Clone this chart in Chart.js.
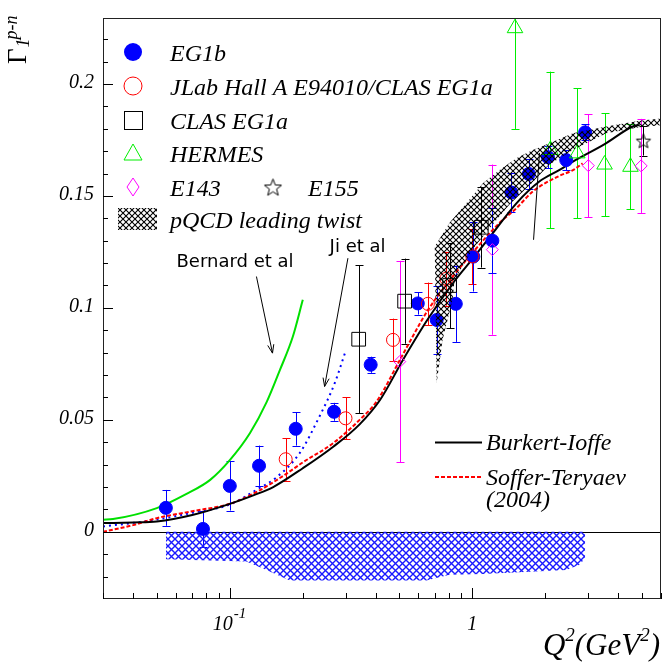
<!DOCTYPE html>
<html>
<head>
<meta charset="utf-8">
<script src="https://cdn.jsdelivr.net/npm/chart.js@4.4.1/dist/chart.umd.min.js"></script>
<style>
  html, body { margin: 0; padding: 0; background: #fff; overflow: hidden; }
  #wrap { width: 663px; height: 665px; position: relative; overflow: hidden; }
  #chartGamma { display: block; width: 663px; height: 665px; }
</style>
</head>
<body>
<div id="wrap"><canvas id="chartGamma" width="663" height="665"></canvas></div>
<script>
// EG1b (filled blue circles)
const qEG1b   = [0.0545, 0.0775, 0.100, 0.132, 0.187, 0.269, 0.381, 0.596, 0.713, 0.855, 1.01, 1.21, 1.45, 1.71, 2.05, 2.44, 2.92];
const gEG1b   = [0.0107, 0.0013, 0.0205, 0.0295, 0.0460, 0.0536, 0.0746, 0.1020, 0.0946, 0.1018, 0.1229, 0.1300, 0.1515, 0.1598, 0.1673, 0.1660, 0.1784];
const eEG1b   = [0.008, 0.008, 0.011, 0.009, 0.0075, 0.004, 0.0036, 0.005, 0.015, 0.017, 0.0156, 0.0145, 0.0087, 0.0067, 0.005, 0.0045, 0.0035];
// EG1b systematic band (below zero)
const qSys    = [0.0545, 0.117, 0.1416, 0.1767, 0.646, 0.806, 1.106, 2.44, 2.77, 2.92];
const gSys    = [-0.0122, -0.0132, -0.017, -0.0217, -0.0217, -0.0192, -0.0188, -0.017, -0.0147, -0.0118];
// JLab Hall A E94010 / CLAS EG1a
const qHallA  = [0.170, 0.300, 0.471, 0.656, 0.782, 1.00];
const gHallA  = [0.0324, 0.0507, 0.0857, 0.1018, 0.1130, 0.1230];
const eHallA  = [0.0095, 0.0094, 0.0095, 0.0095, 0.0120, 0.0123];
// CLAS EG1a
const qEG1a   = [0.340, 0.526, 0.806, 1.089];
const gEG1a   = [0.0860, 0.1030, 0.1100, 0.1360];
const eEG1a   = [0.033, 0.019, 0.019, 0.018];
// HERMES
const qHermes = [1.50, 2.10, 2.71, 3.51, 4.49];
const gHermes = [0.2249, 0.1705, 0.1690, 0.1640, 0.1630];
const eHermes = [0.045, 0.035, 0.029, 0.023, 0.019];
// E143
const qE143   = [0.502, 1.21, 3.01, 4.97];
const gE143   = [0.0760, 0.1260, 0.1635, 0.1634];
const eE143   = [0.045, 0.038, 0.023, 0.021];
// E155
const qE155   = [5.08];
const gE155   = [0.1747];
const eE155   = [0.0067];

// model curves
const qBurkert = [0.03, 0.04, 0.05, 0.07, 0.1, 0.125, 0.151, 0.2, 0.267, 0.343, 0.417, 0.516, 0.656, 0.845, 1.01, 1.2, 1.52, 1.89, 2.29, 2.6, 3.5, 4.59, 4.9];
const gBurkert = [0.0039, 0.0042, 0.0046, 0.0075, 0.0125, 0.0163, 0.0200, 0.0284, 0.0380, 0.0480, 0.0590, 0.0765, 0.0950, 0.1120, 0.1223, 0.1326, 0.1467, 0.1564, 0.1616, 0.1653, 0.1730, 0.1810, 0.1817];
const qSoffer  = [0.03, 0.04, 0.05, 0.07, 0.1, 0.13, 0.171, 0.2, 0.267, 0.343, 0.402, 0.516, 0.656, 0.845, 1.0, 1.296, 1.52, 1.777, 2.29, 2.6, 2.85];
const gSoffer  = [0.0000, 0.0030, 0.0061, 0.0092, 0.0125, 0.0180, 0.0259, 0.0310, 0.0396, 0.0500, 0.0580, 0.0790, 0.0990, 0.1150, 0.1245, 0.1380, 0.1445, 0.1520, 0.1590, 0.1615, 0.1645];
const qJi      = [0.03, 0.04, 0.05, 0.07, 0.1, 0.13, 0.156, 0.194, 0.2355, 0.27, 0.30];
const gJi      = [0.0024, 0.0040, 0.0055, 0.0085, 0.0122, 0.0190, 0.0244, 0.0351, 0.0520, 0.0660, 0.0805];
const qBernard = [0.03, 0.033, 0.05, 0.066, 0.083, 0.1, 0.121, 0.142, 0.161, 0.182, 0.2];
const gBernard = [0.0054, 0.0057, 0.0106, 0.0168, 0.0232, 0.0320, 0.0440, 0.0580, 0.0723, 0.0872, 0.1036];

// pQCD leading twist band: upper edge left->right, then lower edge right->left
const qBandUp = [0.70, 0.806, 0.945, 1.106, 1.296, 1.518, 1.777, 2.08, 2.598, 3.57, 4.89, 6.3];
const gBandUp = [0.1274, 0.1380, 0.1467, 0.1557, 0.1616, 0.1668, 0.1705, 0.1735, 0.1780, 0.1810, 0.1836, 0.1848];
const qBandLo = [6.3, 4.89, 3.57, 2.6, 2.08, 1.77, 1.42, 1.21, 1.0, 0.845, 0.829, 0.754, 0.713];
const gBandLo = [0.1818, 0.1807, 0.1780, 0.1705, 0.1640, 0.1560, 0.1460, 0.1370, 0.1260, 0.1125, 0.1036, 0.0857, 0.0665];

// axis ticks
const yTickVals = [0, 0.05, 0.1, 0.15, 0.2];
const yTickText = ['0', '0.05', '0.1', '0.15', '0.2'];

// annotations (data coordinates)
const notes = [
    { text: 'Bernard et al', x: 0.0603, y: 0.1184, from: [0.1288, 0.114], to: [0.150, 0.0798] },
    { text: 'Ji et al', x: 0.258, y: 0.1251, from: [0.307, 0.1222], to: [0.246, 0.0649] }
];
const pqcdPointer = { from: [1.893, 0.1692], to: [1.789, 0.1304] };

function pts(xs, ys) {
    return xs.map((x, i) => ({ x: x, y: ys[i] }));
}

const canvas = document.getElementById('chartGamma');
const ctx0 = canvas.getContext('2d');

function hatch(color, size, lw) {
    const c = document.createElement('canvas');
    c.width = size; c.height = size;
    const g = c.getContext('2d');
    g.strokeStyle = color;
    g.lineWidth = lw;
    g.beginPath();
    g.moveTo(0, 0); g.lineTo(size, size);
    g.moveTo(size, 0); g.lineTo(0, size);
    g.stroke();
    return ctx0.createPattern(c, 'repeat');
}

function makeStar(r) {
    const s = Math.ceil(r * 2 + 3);
    const c = document.createElement('canvas');
    c.width = s; c.height = s;
    const g = c.getContext('2d');
    g.strokeStyle = '#000';
    g.lineWidth = 1;
    g.beginPath();
    for (let k = 0; k < 10; k++) {
        const rr = k % 2 ? r * 0.42 : r;
        const ang = -Math.PI / 2 + k * Math.PI / 5;
        const px = s / 2 + rr * Math.cos(ang), py = s / 2 + 1 + rr * Math.sin(ang);
        if (k) g.lineTo(px, py); else g.moveTo(px, py);
    }
    g.closePath();
    g.stroke();
    return c;
}

const blackHatch = hatch('#000', 6, 1.1);
const blueHatch = hatch('#1a1aff', 7, 1.4);
const starImg = makeStar(7.5);
const starLegend = makeStar(9);

const SERIF = '"Liberation Serif", "Times New Roman", serif';

function markerDs(label, xs, ys, errs, style, color, radius, fill) {
    return {
        label: label,
        data: pts(xs, ys),
        errors: errs,
        errColor: color,
        showLine: false,
        pointStyle: style,
        pointRadius: radius,
        borderColor: color,
        backgroundColor: fill,
        pointBorderWidth: 1
    };
}

function curveDs(label, xs, ys, color, dash) {
    return {
        label: label,
        data: pts(xs, ys),
        showLine: true,
        pointRadius: 0,
        borderColor: color,
        borderWidth: 2,
        borderDash: dash,
        cubicInterpolationMode: 'monotone',
        fill: false
    };
}

const rootStyle = {
    id: 'rootStyle',
    beforeDatasetsDraw(chart) {
        const { ctx, chartArea: a, scales: { x, y } } = chart;
        ctx.save();
        ctx.strokeStyle = '#000';
        ctx.lineWidth = 1;
        const y0 = Math.round(y.getPixelForValue(0)) + 0.5;
        ctx.beginPath();
        ctx.moveTo(a.left, y0);
        ctx.lineTo(a.right, y0);
        ctx.stroke();

        // error bars
        chart.data.datasets.forEach((ds, i) => {
            if (!ds.errors) return;
            const meta = chart.getDatasetMeta(i);
            ctx.strokeStyle = ds.errColor;
            meta.data.forEach((pt, j) => {
                const e = ds.errors[j];
                const v = ds.data[j].y;
                const topRaw = y.getPixelForValue(v + e);
                const botRaw = y.getPixelForValue(v - e);
                const top = Math.max(topRaw, a.top);
                const bot = Math.min(botRaw, a.bottom);
                const px = Math.round(pt.x) + 0.5;
                ctx.beginPath();
                ctx.moveTo(px, top);
                ctx.lineTo(px, bot);
                if (topRaw >= a.top) {
                    ctx.moveTo(px - 4, Math.round(top) + 0.5);
                    ctx.lineTo(px + 4, Math.round(top) + 0.5);
                }
                if (botRaw <= a.bottom) {
                    ctx.moveTo(px - 4, Math.round(bot) + 0.5);
                    ctx.lineTo(px + 4, Math.round(bot) + 0.5);
                }
                ctx.stroke();
            });
        });
        ctx.restore();
    },
    afterDraw(chart) {
        const { ctx, chartArea: a, scales: { x, y } } = chart;
        ctx.save();

        // frame
        ctx.strokeStyle = '#222';
        ctx.lineWidth = 1;
        ctx.strokeRect(a.left + 0.5, a.top - 0.5, a.right - a.left - 1, a.bottom - a.top);

        // y ticks
        ctx.strokeStyle = '#000';
        ctx.beginPath();
        for (let k = -2; k <= 22; k++) {
            const py = Math.round(y.getPixelForValue(k / 100)) + 0.5;
            const len = k % 5 === 0 ? 10 : 5;
            ctx.moveTo(a.left, py);
            ctx.lineTo(a.left + len, py);
        }
        // x ticks
        [0.01, 0.1, 1].forEach(dec => {
            for (let m = 1; m <= 9; m++) {
                const v = dec * m;
                if (v < x.min || v > x.max) continue;
                const px = Math.round(x.getPixelForValue(v)) + 0.5;
                const len = m === 1 ? 11 : 6;
                ctx.moveTo(px, a.bottom);
                ctx.lineTo(px, a.bottom - len);
            }
        });
        ctx.stroke();

        // tick labels
        ctx.fillStyle = '#000';
        ctx.font = 'italic 20px ' + SERIF;
        ctx.textAlign = 'right';
        ctx.textBaseline = 'middle';
        yTickVals.forEach((v, i) => {
            ctx.fillText(yTickText[i], a.left - 9, y.getPixelForValue(v) - 1);
        });
        ctx.textBaseline = 'alphabetic';
        const p01 = x.getPixelForValue(0.1);
        ctx.fillText('10', p01 + 3, 630);
        ctx.textAlign = 'left';
        ctx.font = 'italic 15px ' + SERIF;
        ctx.fillText('-1', p01 + 4, 618);
        ctx.font = 'italic 20px ' + SERIF;
        ctx.textAlign = 'center';
        ctx.fillText('1', x.getPixelForValue(1), 630);

        // x title Q2(GeV2)
        ctx.textAlign = 'left';
        const big = 'italic 31px ' + SERIF, small = 'italic 19px ' + SERIF;
        const parts = [['Q', big, 0], ['2', small, -14], ['(GeV', big, 0], ['2', small, -14], [')', big, 0]];
        let total = 0;
        parts.forEach(p => { ctx.font = p[1]; total += ctx.measureText(p[0]).width; });
        let cx = a.right - 1 - total;
        parts.forEach(p => {
            ctx.font = p[1];
            ctx.fillText(p[0], cx, 655 + p[2]);
            cx += ctx.measureText(p[0]).width;
        });

        // y title Gamma_1^{p-n}, rotated
        ctx.save();
        ctx.translate(26, 64);
        ctx.rotate(-Math.PI / 2);
        ctx.font = '27px ' + SERIF;
        ctx.fillText('\u0393', 0, 0);
        const gw = ctx.measureText('\u0393').width;
        ctx.font = 'italic 18px ' + SERIF;
        ctx.fillText('1', gw + 1, 3);
        ctx.fillText('p-n', gw + 9, -9);
        ctx.restore();

        // annotations
        ctx.strokeStyle = '#000';
        ctx.lineWidth = 1;
        notes.forEach(n => {
            ctx.font = '18px "DejaVu Sans", sans-serif';
            ctx.textAlign = 'left';
            ctx.fillText(n.text, x.getPixelForValue(n.x), y.getPixelForValue(n.y));
            const x1 = x.getPixelForValue(n.from[0]), y1 = y.getPixelForValue(n.from[1]);
            const x2 = x.getPixelForValue(n.to[0]), y2 = y.getPixelForValue(n.to[1]);
            ctx.beginPath();
            ctx.moveTo(x1, y1);
            ctx.lineTo(x2, y2);
            const ang = Math.atan2(y2 - y1, x2 - x1);
            ctx.moveTo(x2 - 9 * Math.cos(ang - 0.35), y2 - 9 * Math.sin(ang - 0.35));
            ctx.lineTo(x2, y2);
            ctx.lineTo(x2 - 9 * Math.cos(ang + 0.35), y2 - 9 * Math.sin(ang + 0.35));
            ctx.stroke();
        });
        ctx.beginPath();
        ctx.moveTo(x.getPixelForValue(pqcdPointer.from[0]), y.getPixelForValue(pqcdPointer.from[1]));
        ctx.lineTo(x.getPixelForValue(pqcdPointer.to[0]), y.getPixelForValue(pqcdPointer.to[1]));
        ctx.stroke();

        // top-left legend
        const lx = 133, tx = 170, font = 'italic 24px ' + SERIF;
        ctx.font = font;
        ctx.textAlign = 'left';
        ctx.fillStyle = '#000';
        const rows = [52, 86, 120, 153, 187, 219];
        // EG1b
        ctx.fillStyle = '#0000ff';
        ctx.beginPath(); ctx.arc(lx, rows[0], 9, 0, Math.PI * 2); ctx.fill();
        // Hall A
        ctx.strokeStyle = '#ff0000';
        ctx.beginPath(); ctx.arc(lx, rows[1], 9, 0, Math.PI * 2); ctx.stroke();
        // CLAS EG1a
        ctx.strokeStyle = '#000';
        ctx.strokeRect(lx - 9 + 0.5, rows[2] - 9 + 0.5, 18, 18);
        // HERMES
        ctx.strokeStyle = '#00ee00';
        ctx.beginPath();
        ctx.moveTo(lx, rows[3] - 9); ctx.lineTo(lx + 9, rows[3] + 7); ctx.lineTo(lx - 9, rows[3] + 7); ctx.closePath();
        ctx.stroke();
        // E143
        ctx.strokeStyle = '#ff00ff';
        ctx.beginPath();
        ctx.moveTo(lx, rows[4] - 9); ctx.lineTo(lx + 6, rows[4]); ctx.lineTo(lx, rows[4] + 9); ctx.lineTo(lx - 6, rows[4]); ctx.closePath();
        ctx.stroke();
        // E155 star
        ctx.drawImage(starLegend, 273 - starLegend.width / 2, rows[4] - starLegend.height / 2);
        // pQCD hatch box
        ctx.fillStyle = blackHatch;
        ctx.fillRect(118, rows[5] - 11, 39, 22);

        ctx.fillStyle = '#000';
        const labels = ['EG1b', 'JLab Hall A E94010/CLAS EG1a', 'CLAS EG1a', 'HERMES', 'E143', 'pQCD leading twist'];
        labels.forEach((t, i) => ctx.fillText(t, tx, rows[i] + 9));
        ctx.fillText('E155', 308, rows[4] + 9);

        // bottom-right legend
        ctx.strokeStyle = '#000';
        ctx.lineWidth = 2;
        ctx.beginPath(); ctx.moveTo(435, 442.5); ctx.lineTo(482, 442.5); ctx.stroke();
        ctx.strokeStyle = '#ff0000';
        ctx.setLineDash([4, 2]);
        ctx.beginPath(); ctx.moveTo(435, 477); ctx.lineTo(482, 477); ctx.stroke();
        ctx.setLineDash([]);
        ctx.fillText('Burkert-Ioffe', 486, 450);
        ctx.fillText('Soffer-Teryaev', 486, 485);
        ctx.fillText('(2004)', 486, 507);

        ctx.restore();
    }
};

const chartGamma = new Chart(canvas, {
    type: 'scatter',
    data: {
        datasets: [
            {
                label: 'pQCD leading twist',
                data: pts(qBandUp.concat(qBandLo), gBandUp.concat(gBandLo)),
                showLine: true,
                pointRadius: 0,
                borderWidth: 0,
                borderColor: 'rgba(0,0,0,0)',
                backgroundColor: blackHatch,
                fill: 'shape'
            },
            markerDs('E155', qE155, gE155, eE155, starImg, '#000000', 8, 'rgba(0,0,0,0)'),
            markerDs('E143', qE143, gE143, eE143, 'rectRot', '#ff00ff', 6, 'rgba(0,0,0,0)'),
            markerDs('HERMES', qHermes, gHermes, eHermes, 'triangle', '#00ee00', 9, 'rgba(0,0,0,0)'),
            markerDs('CLAS EG1a', qEG1a, gEG1a, eEG1a, 'rect', '#000000', 9.7, 'rgba(0,0,0,0)'),
            markerDs('JLab Hall A E94010/CLAS EG1a', qHallA, gHallA, eHallA, 'circle', '#ff0000', 6.5, 'rgba(0,0,0,0)'),
            markerDs('EG1b', qEG1b, gEG1b, eEG1b, 'circle', '#0000ff', 6.5, '#0000ff'),
            curveDs('Burkert-Ioffe', qBurkert, gBurkert, '#000000', []),
            curveDs('Soffer-Teryaev (2004)', qSoffer, gSoffer, '#ff0000', [4, 2]),
            curveDs('Ji et al', qJi, gJi, '#0000ff', [2, 4]),
            curveDs('Bernard et al', qBernard, gBernard, '#00e000', []),
            {
                label: 'EG1b systematic',
                data: pts(qSys, gSys),
                showLine: true,
                pointRadius: 0,
                borderWidth: 0,
                borderColor: 'rgba(0,0,0,0)',
                backgroundColor: blueHatch,
                fill: 'origin'
            }
        ]
    },
    options: {
        responsive: false,
        animation: false,
        devicePixelRatio: 1,
        layout: { autoPadding: false, padding: { left: 103, top: 19, right: 2, bottom: 66 } },
        plugins: {
            legend: { display: false },
            tooltip: { enabled: false },
            title: { display: false }
        },
        scales: {
            x: { type: 'logarithmic', min: 0.03, max: 6, display: false },
            y: { type: 'linear', min: -0.03, max: 0.229, display: false }
        }
    },
    plugins: [rootStyle]
});
</script>
</body>
</html>
